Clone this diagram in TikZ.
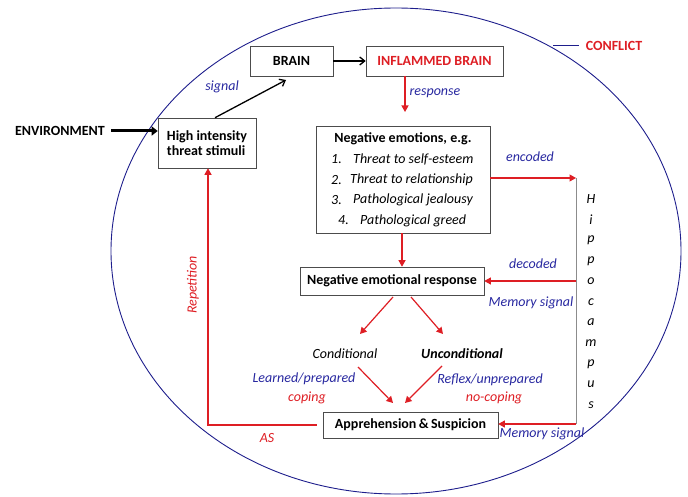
\documentclass[tikz,border=0pt]{standalone}
\usepackage{fontspec}
\setmainfont{Carlito}
\usetikzlibrary{arrows.meta,calc}
\definecolor{cblue}{RGB}{30,30,140}
\definecolor{lblue}{RGB}{40,40,160}
\definecolor{cred}{RGB}{222,30,36}
\begin{document}
\begin{tikzpicture}[x=1pt,y=-1pt,
  box/.style={draw=black!70, line width=0.6pt, fill=white, inner sep=0pt, font=\bfseries\fontsize{14}{16}\selectfont},
  lab/.style={inner sep=0pt, font=\itshape\fontsize{14}{16}\selectfont},
  bl/.style={lab, text=lblue},
  rl/.style={lab, text=cred},
  rarr/.style={draw=cred, line width=1.2pt, -{Triangle[length=6.5pt,width=7pt]}},
  barr/.style={draw=black, line width=1.3pt, -{Straight Barb[length=5pt,width=8pt]}}
]
\useasboundingbox (0,0) rectangle (688,497);
% ellipse
\draw[cblue, line width=0.9pt] (396,251) ellipse [x radius=285, y radius=243];
\coordinate (cf) at (553,45);
\coordinate (cfe) at (579,45);
\node[inner sep=0pt, text=cred, font=\bfseries\fontsize{14}{16}\selectfont] (conflict) at (614,46) {CONFLICT};
\draw[cblue, line width=0.8pt] (cf) -- (cfe);

% boxes
\node[box, minimum width=83pt, minimum height=30pt] (brain) at (291.5,61) {BRAIN};
\node[box, minimum width=137pt, minimum height=30pt, text=cred] (infl) at (434.5,61) {INFLAMMED BRAIN};
\node[box, minimum width=98pt, minimum height=50pt, align=left] (hit) at (207,143) {High intensity\\[-1pt]threat stimuli};
\node[box, minimum width=174pt, minimum height=107pt] (ne) at (403,179.5) {};
\node[box, minimum width=184pt, minimum height=28pt] (ner) at (392,281) {Negative emotional response};
\node[box, minimum width=175pt, minimum height=26pt] (as) at (410.5,425) {Apprehension\,\&\,Suspicion};

% negative emotions contents
\node[inner sep=0pt, font=\bfseries\fontsize{14}{16}\selectfont] (net) at (403,139) {Negative emotions, e.g.};
\node[lab, anchor=west] (n1) at (331,159.5) {1.};
\node[lab, anchor=west] (t1) at (353,159.5) {Threat to self-esteem};
\node[lab, anchor=west] (n2) at (331,180) {2.};
\node[lab, anchor=west] (t2) at (350,180) {Threat to relationship};
\node[lab, anchor=west] (n3) at (331,200) {3.};
\node[lab, anchor=west] (t3) at (353,200) {Pathological jealousy};
\node[lab, anchor=west] (n4) at (338,220.5) {4.};
\node[lab, anchor=west] (t4) at (360,220.5) {Pathological greed};

% environment
\node[inner sep=0pt, font=\bfseries\fontsize{14}{16}\selectfont] (env) at (60,131) {ENVIRONMENT};
\draw[black, line width=3pt, -{Triangle[length=6pt,width=9pt]}] ($(env.east)+(6,0)$) -- (env.east -| hit.west);

% brain arrows
\draw[barr] ($(hit.north)+(8,0)$) -- (286,80);
\node[bl] (signal) at (222,87) {signal};
\draw[barr] (brain.east) -- (infl.west);

% response
\draw[rarr] (405,76) -- (405,112);
\node[bl] (resp) at (435,93) {response};

% NE -> NER
\draw[rarr] (ne.south -| 402,0) -- (ner.north -| 402,0);

% hippocampus
\coordinate (enc) at (576,178);
\coordinate (dec) at (576,281);
\coordinate (mem) at (576,424);
\draw[black!45, line width=0.9pt] (enc) -- (mem);
\draw[rarr] (ne.east |- enc) -- (enc);
\node[bl] (encoded) at (530,157) {encoded};
\draw[rarr] (dec) -- (ner.east);
\node[bl] (decoded) at (533,264) {decoded};
\node[bl] (ms1) at (531,303) {Memory signal};
\draw[rarr] (mem) -- (as.east |- mem);
\node[bl] (ms2) at (542,434) {Memory signal};

\foreach \l [count=\i from 0] in {H,i,p,p,o,c,a,m,p,u,s} {
  \node[lab] (h\i) at (591,{199+20.6*\i}) {\l};
}

% split
\draw[rarr] (393,297) -- (360,334);
\draw[rarr] (411,297) -- (443,334);
\node[lab] (cond) at (345,354) {Conditional};
\node[lab, font=\bfseries\itshape\fontsize{14}{16}\selectfont] (uncond) at (462,354) {Unconditional};
\node[bl] (learned) at (304,379) {Learned/prepared};
\node[rl] (coping) at (307,398) {coping};
\node[bl] (reflex) at (490,380) {Reflex/unprepared};
\node[rl] (nocoping) at (494,398) {no-coping};
\draw[rarr] (358,367) -- (393,403);
\draw[rarr] (442,366) -- (405,403);

% repetition loop
\coordinate (corner) at (208,425);
\draw[draw=cred, line width=1.2pt, -{Triangle[length=6.5pt,width=7pt]}] ($(as.west)+(-6,0)$) -- (corner) -- (corner |- hit.south);
\node[rl] (asl) at (267,438) {AS};
\node[rl, rotate=90] (rep) at (193,285) {Repetition};
\end{tikzpicture}
\end{document}
